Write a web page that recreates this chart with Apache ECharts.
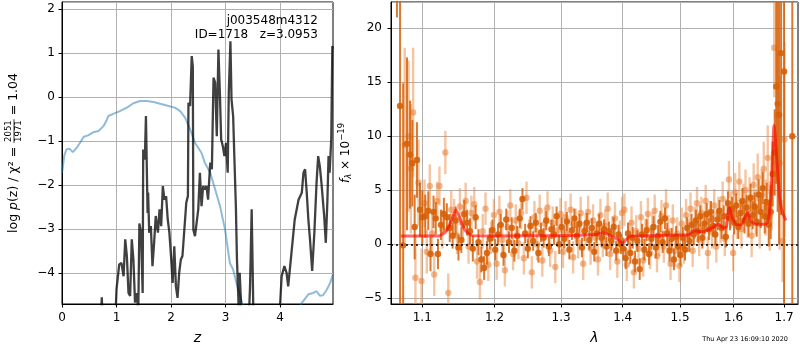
<!DOCTYPE html>
<html>
<head>
<meta charset="utf-8">
<script src="https://cdn.jsdelivr.net/npm/echarts@6/dist/echarts.min.js"></script>
<style>html,body{margin:0;padding:0;background:#fff}#chart{width:800px;height:350px}</style>
</head>
<body>
<div id="chart"></div>
<script>
// axis ticks
var zTicks = [0, 1, 2, 3, 4];
var lamTicks = [1.1, 1.2, 1.3, 1.4, 1.5, 1.6, 1.7];
var zRange = [0, 4.972];
var logpRange = [-4.70, 2.16];
var lamRange = [1.0594, 1.7288];
var fluxRange = [-5.53, 22.43];

// left panel: log p(z)
var zBlack = [0, 0.3, 0.6, 0.70, 0.73, 0.76, 0.98, 0.99, 1.00, 1.05, 1.09, 1.13, 1.16, 1.19, 1.22, 1.25, 1.28, 1.31, 1.34, 1.37,
    1.40, 1.42, 1.45, 1.48, 1.49, 1.52, 1.54, 1.57, 1.58, 1.60, 1.63, 1.66, 1.69, 1.72, 1.76, 1.79, 1.82, 1.85, 1.88, 1.91,
    1.94, 1.97, 2.00, 2.03, 2.06, 2.09, 2.12, 2.15, 2.18, 2.21, 2.24, 2.28, 2.31, 2.32, 2.35, 2.38, 2.40, 2.41, 2.44, 2.50,
    2.53, 2.56, 2.59, 2.62, 2.65, 2.68, 2.72, 2.75, 2.78, 2.81, 2.84, 2.87, 2.90, 2.92, 2.95, 2.98, 3.01, 3.04, 3.06, 3.09,
    3.11, 3.14, 3.16, 3.19, 3.21, 3.24, 3.26, 3.29, 3.35, 3.42, 3.45, 3.48, 3.51, 3.60, 3.80, 3.95, 4.00, 4.03, 4.08, 4.12,
    4.15, 4.21, 4.27, 4.34, 4.37, 4.40, 4.43, 4.46, 4.49, 4.52, 4.55, 4.59, 4.63, 4.67, 4.70, 4.73, 4.76, 4.78, 4.81, 4.84,
    4.87, 4.89, 4.91, 4.94, 4.96, 4.97];
var logpBlack = [-6.5, -6.2, -5.9, -5.5, -4.55, -5.5, -5.2, -4.69, -4.37, -3.80, -3.77, -4.07, -3.23, -3.61, -4.45, -4.52, -3.23, -3.69, -4.67, -4.45,
    -4.83, -2.87, -3.08, -4.45, -1.19, -1.42, -0.43, -2.63, -2.17, -3.08, -2.93, -3.84, -3.31, -2.70, -3.08, -2.55, -2.93, -2.02, -2.33, -2.25,
    -2.78, -3.08, -3.61, -4.22, -3.39, -4.30, -4.56, -3.99, -3.69, -3.61, -3.61, -2.40, -2.25, -0.13, -0.20, 0.93, 0.70, -3.01, -3.16, -2.55,
    -1.72, -2.48, -2.02, -2.10, -2.02, -2.33, -1.49, -1.64, 0.44, 0.33, -0.89, 1.08, -0.05, -0.96, -1.11, -1.34, -1.04, -1.72, 0.10, 1.27,
    -0.05, -0.43, -1.27, -2.48, -3.69, -4.75, -3.99, -4.83, -5.5, -5.3, -4.30, -2.55, -4.83, -5.6, -5.8, -5.2, -4.75, -4.07, -3.84, -3.99,
    -4.30, -3.54, -2.78, -2.33, -2.25, -2.17, -1.72, -1.64, -2.17, -2.78, -3.23, -3.95, -3.08, -1.95, -1.34, -1.57, -1.95, -1.91, -2.70, -3.31,
    -2.33, -1.34, -1.72, -0.96, 1.16, 1.1];
var zBlue = [0, 0.01, 0.04, 0.08, 0.13, 0.20, 0.27, 0.34, 0.40, 0.48, 0.57, 0.67, 0.76, 0.81, 0.85, 0.94, 1.06, 1.19, 1.31, 1.43,
    1.55, 1.68, 1.80, 1.92, 2.07, 2.17, 2.26, 2.35, 2.44, 2.50, 2.56, 2.62, 2.72, 2.81, 2.90, 2.99, 3.08, 3.14, 3.20, 3.27,
    3.31, 3.50, 4.00, 4.30, 4.39, 4.52, 4.61, 4.67, 4.73, 4.79, 4.86, 4.92, 4.97];
var logpBlue = [-1.72, -1.64, -1.34, -1.19, -1.17, -1.25, -1.15, -1.02, -0.90, -0.87, -0.80, -0.77, -0.66, -0.55, -0.43, -0.38, -0.32, -0.24, -0.14, -0.09,
    -0.09, -0.11, -0.15, -0.19, -0.24, -0.32, -0.47, -0.73, -1.04, -1.15, -1.27, -1.49, -1.72, -2.10, -2.48, -3.00, -3.77, -3.92, -4.22, -4.52,
    -4.71, -5.9, -6.3, -5.3, -4.69, -4.48, -4.45, -4.41, -4.51, -4.50, -4.37, -4.22, -4.03];

// right panel: model
var lamModel = [1.072, 1.122, 1.132, 1.140, 1.1455, 1.151, 1.158, 1.168, 1.20, 1.30, 1.355, 1.367, 1.380, 1.393, 1.400, 1.407, 1.414, 1.45, 1.50, 1.512,
    1.518, 1.525, 1.54, 1.555, 1.571, 1.580, 1.586, 1.5915, 1.598, 1.606, 1.615, 1.621, 1.6265, 1.633, 1.642, 1.655, 1.664, 1.669, 1.674, 1.6797,
    1.686, 1.691, 1.697, 1.704];
var fluxModel = [0.77, 0.77, 1.2, 2.3, 3.2, 2.4, 1.3, 0.8, 0.77, 0.8, 0.9, 1.07, 0.8, 0.4, 0.12, 0.5, 0.77, 0.8, 0.85, 0.85,
    0.95, 1.25, 1.15, 1.4, 1.85, 1.5, 1.6, 3.4, 2.4, 1.8, 1.8, 2.4, 2.9, 2.2, 1.85, 1.85, 1.9, 2.5, 5.0, 11.0,
    7.5, 4.3, 2.9, 2.2];

// right panel: spectrum, darker points
var lamDark = [1.067, 1.071, 1.075, 1.080, 1.084, 1.087, 1.090, 1.093, 1.097, 1.100,
    1.104, 1.108, 1.111, 1.115, 1.118, 1.121, 1.125, 1.129, 1.133, 1.137,
    1.141, 1.145, 1.149, 1.153, 1.157, 1.161, 1.165, 1.169, 1.173, 1.177,
    1.181, 1.185, 1.189, 1.193, 1.197, 1.201, 1.205, 1.209, 1.213, 1.217,
    1.221, 1.225, 1.229, 1.233, 1.237, 1.241, 1.245, 1.249, 1.253, 1.257,
    1.261, 1.265, 1.269, 1.273, 1.277, 1.281, 1.285, 1.289, 1.293, 1.297,
    1.301, 1.305, 1.309, 1.313, 1.317, 1.321, 1.325, 1.329, 1.333, 1.337,
    1.341, 1.345, 1.349, 1.353, 1.357, 1.361, 1.365, 1.369, 1.373, 1.377,
    1.381, 1.385, 1.389, 1.393, 1.397, 1.401, 1.405, 1.409, 1.413, 1.417,
    1.421, 1.425, 1.429, 1.433, 1.437, 1.441, 1.445, 1.449, 1.453, 1.457,
    1.461, 1.465, 1.469, 1.473, 1.477, 1.481, 1.485, 1.489, 1.493, 1.497,
    1.501, 1.505, 1.509, 1.513, 1.517, 1.521, 1.525, 1.529, 1.533, 1.537,
    1.541, 1.545, 1.549, 1.553, 1.557, 1.561, 1.565, 1.569, 1.573, 1.577,
    1.581, 1.585, 1.589, 1.593, 1.597, 1.601, 1.605, 1.609, 1.613, 1.617,
    1.621, 1.625, 1.629, 1.633, 1.637, 1.641, 1.645, 1.649, 1.653, 1.657,
    1.661, 1.665, 1.669, 1.673, 1.677, 1.681, 1.684, 1.687, 1.690, 1.694, 1.700, 1.717];
var fluxDark = [30, 12.8, -0.1, 9.3, 8.3, 7.5, 1.6, 7.8, 3.2, 2.5,
    2.6, 3.1, -0.9, 3.0, 2.4, -0.9, 1.8, 2.8, 2.5, 1.5,
    0.8, 2.2, -0.3, 0.4, 2.8, 2.0, 1.2, -0.4, 2.5, 0.2,
    -1.4, -2.2, -0.8, 0.5, 1.3, -0.5, 0.9, 1.8, -1.0, 2.3,
    0.2, 1.5, -0.6, 0.8, 2.4, 4.2, 1.0, -0.4, 1.7, 0.3,
    2.0, -0.8, 1.1, 0.6, 2.2, -0.2, 1.4, 0.9, 2.6, 0.0,
    1.6, 0.5, 2.1, -0.5, 1.3, 2.4, 0.8, 1.9, -0.3, 1.2,
    2.0, 0.4, 1.5, -0.7, 1.0, 1.9, 0.6, 1.4, -0.2, 1.2,
    0.3, 1.6, -0.6, 0.9, 0.0, -0.4, -1.3, 1.0, -0.8, 0.6,
    -1.6, 0.3, -2.3, 0.9, -0.5, 1.3, -0.9, 0.5, 1.6, -0.3,
    0.8, 2.1, 0.2, 2.4, 1.0, -0.6, 0.5, -1.4, 0.7, -0.2,
    -1.0, 0.6, -0.5, 1.5, 0.3, 1.8, 0.9, 2.2, 1.2, 2.6,
    0.6, 1.9, 2.8, 1.4, 3.0, 1.7, 0.9, 2.3, 3.1, 1.5,
    2.6, 0.7, 3.8, 2.4, 3.3, 2.0, 3.6, 1.6, 2.9, 4.0,
    2.2, 3.4, 1.9, 4.3, 2.7, 3.5, 2.1, 4.6, 3.0, 5.2,
    2.6, 3.9, 1.8, 3.0, 6.5, 8.5, 14.6, 13.0, 12.0, 17.7, 16.0, 10.0];
var errDark = [9, 22, 15, 8, 5, 4, 3, 3.5, 2.5, 2.5,
    2, 1.8, 1.6, 1.5, 1.5, 1.4, 1.4, 1.5, 1.3, 1.3,
    1.2, 1.3, 1.2, 1.2, 1.3, 1.2, 1.2, 1.2, 1.1, 1.2,
    1.2, 1.1, 1.1, 1.0, 1.0, 1.0, 1.0, 1.0, 1.0, 1.0,
    1.0, 1.0, 1.0, 0.9, 0.9, 1.0, 0.9, 0.9, 0.9, 0.9,
    0.9, 0.9, 0.9, 0.9, 0.9, 0.9, 0.9, 0.9, 0.9, 0.9,
    0.9, 0.9, 0.9, 0.9, 0.9, 0.9, 0.9, 0.9, 0.9, 0.9,
    0.9, 0.9, 0.9, 0.9, 0.9, 0.9, 0.9, 0.9, 0.9, 0.9,
    0.9, 0.9, 0.9, 0.9, 0.9, 1.0, 1.0, 1.0, 1.0, 1.0,
    1.0, 1.0, 1.0, 1.0, 1.0, 1.0, 1.0, 1.0, 1.0, 1.0,
    1.0, 1.0, 1.0, 1.0, 1.0, 1.0, 1.0, 1.0, 1.0, 1.0,
    1.0, 1.0, 1.0, 1.0, 1.0, 1.0, 1.0, 1.0, 1.0, 1.0,
    1.0, 1.0, 1.0, 1.0, 1.0, 1.0, 1.0, 1.0, 1.0, 1.0,
    1.0, 1.0, 1.1, 1.1, 1.1, 1.1, 1.1, 1.1, 1.2, 1.2,
    1.2, 1.2, 1.2, 1.3, 1.3, 1.3, 1.4, 1.4, 1.5, 1.5,
    1.6, 1.8, 2.0, 2.5, 3, 4, 9, 10, 12, 15, 30, 40];

// right panel: spectrum, lighter points
var lamLight = [1.077, 1.082, 1.085, 1.088, 1.091, 1.095, 1.099,
    1.103, 1.106, 1.110, 1.113, 1.116, 1.120, 1.123, 1.127, 1.131, 1.135,
    1.139, 1.143, 1.147, 1.151, 1.155, 1.159, 1.163, 1.167, 1.171, 1.175,
    1.179, 1.183, 1.187, 1.191, 1.195, 1.199, 1.203, 1.207, 1.211, 1.215,
    1.219, 1.223, 1.227, 1.231, 1.235, 1.239, 1.243, 1.247, 1.251, 1.255,
    1.259, 1.263, 1.267, 1.271, 1.275, 1.279, 1.283, 1.287, 1.291, 1.295,
    1.299, 1.303, 1.307, 1.311, 1.315, 1.319, 1.323, 1.327, 1.331, 1.335,
    1.339, 1.343, 1.347, 1.351, 1.355, 1.359, 1.363, 1.367, 1.371, 1.375,
    1.379, 1.383, 1.387, 1.391, 1.395, 1.399, 1.403, 1.407, 1.411, 1.415,
    1.419, 1.423, 1.427, 1.431, 1.435, 1.439, 1.443, 1.447, 1.451, 1.455,
    1.459, 1.463, 1.467, 1.471, 1.475, 1.479, 1.483, 1.487, 1.491, 1.495,
    1.499, 1.503, 1.507, 1.511, 1.515, 1.519, 1.523, 1.527, 1.531, 1.535,
    1.539, 1.543, 1.547, 1.551, 1.555, 1.559, 1.563, 1.567, 1.571, 1.575,
    1.579, 1.583, 1.587, 1.591, 1.595, 1.599, 1.603, 1.607, 1.611, 1.615,
    1.619, 1.623, 1.627, 1.631, 1.635, 1.639, 1.643, 1.647, 1.651, 1.655,
    1.659, 1.663, 1.667, 1.671, 1.675, 1.680, 1.686, 1.691, 1.697, 1.701];
var fluxLight = [9.2, 10.0, 7.0, 12.2, -3.1, 5.7, -3.4,
    3.8, -0.7, 5.4, 1.0, -2.8, 4.0, 5.4, 1.4, 8.5, -4.5,
    3.2, 2.5, 0.8, 3.5, 1.9, 4.0, -0.2, 2.9, 3.7, -1.6,
    -3.5, 1.2, 3.3, -1.9, 0.6, 2.7, -1.8, 3.0, 0.4, -2.4,
    1.6, 3.6, -0.9, 2.2, 0.1, 2.9, -1.3, 4.3, 0.8, -2.6,
    2.5, 0.0, 3.1, -1.5, 1.9, 3.4, -0.6, 2.0, -2.1, 1.3,
    2.8, -0.7, 2.5, 0.9, 3.2, -1.2, 1.8, 0.2, 2.9, -1.8,
    1.4, 3.0, -0.4, 2.2, 0.6, -1.4, 2.7, 0.3, 1.7, 3.3,
    -0.9, 1.1, 2.4, -1.6, 0.7, 2.9, 3.2, -1.9, 0.5, 2.0,
    -2.6, 1.2, -0.4, 2.5, -1.5, 0.9, 2.8, -0.8, 1.5, 3.1,
    -1.1, 0.4, 2.6, -0.2, 3.6, 1.2, -1.8, 2.2, -0.6, 1.0,
    -2.0, 1.9, -0.3, 2.7, 0.8, 3.3, -0.6, 2.0, 3.8, 0.4,
    2.9, 1.5, 4.0, -0.8, 2.5, 1.1, 3.6, -0.2, 2.9, 1.6,
    4.2, 0.5, 2.6, 6.0, 3.2, -0.8, 4.8, 2.3, 5.8, 1.4,
    3.7, 5.0, 2.5, 4.2, 0.8, 5.5, 3.0, 6.2, 1.9, 4.5,
    7.0, 3.4, 8.0, 2.6, 4.8, 18.2, 12.0, 7.5, 0.3, 9.7];
var errLight = [9, 7, 6, 6, 4, 4, 3,
    2.2, 2, 2, 2, 2, 1.8, 1.8, 1.8, 2, 1.8,
    1.8, 1.7, 1.7, 1.7, 1.7, 1.7, 1.6, 1.6, 1.6, 1.6,
    1.6, 1.6, 1.5, 1.5, 1.5, 1.5, 1.5, 1.5, 1.5, 1.5,
    1.5, 1.5, 1.5, 1.5, 1.5, 1.5, 1.5, 1.5, 1.5, 1.5,
    1.5, 1.5, 1.5, 1.5, 1.5, 1.5, 1.5, 1.5, 1.5, 1.5,
    1.5, 1.5, 1.5, 1.5, 1.5, 1.5, 1.5, 1.5, 1.5, 1.5,
    1.5, 1.5, 1.5, 1.5, 1.5, 1.5, 1.5, 1.5, 1.5, 1.5,
    1.5, 1.5, 1.5, 1.5, 1.5, 1.5, 1.5, 1.5, 1.5, 1.5,
    1.5, 1.5, 1.5, 1.5, 1.5, 1.5, 1.5, 1.5, 1.5, 1.5,
    1.5, 1.5, 1.5, 1.5, 1.5, 1.5, 1.5, 1.5, 1.5, 1.5,
    1.5, 1.5, 1.5, 1.5, 1.5, 1.5, 1.5, 1.5, 1.5, 1.5,
    1.5, 1.5, 1.5, 1.5, 1.5, 1.5, 1.5, 1.5, 1.5, 1.5,
    1.6, 1.6, 1.6, 1.7, 1.7, 1.7, 1.8, 1.8, 1.8, 1.8,
    1.9, 1.9, 1.9, 2.0, 2.0, 2.0, 2.1, 2.2, 2.3, 2.4,
    2.5, 2.6, 3, 3.2, 3.5, 4.6, 6, 8, 3.8, 9];

var FONT = 'DejaVu Sans';

function pairs(xs, ys, logX) {
    var out = [];
    for (var i = 0; i < xs.length; i++) {
        out.push([logX ? Math.log(xs[i]) : xs[i], ys[i]]);
    }
    return out;
}

function minus(v) {
    return v < 0 ? '\u2212' + (-v) : '' + v;
}

function errSeries(lams, fl, er, barColor, dotColor, barWidth) {
    var data = [];
    for (var i = 0; i < lams.length; i++) {
        data.push([Math.log(lams[i]), fl[i], er[i]]);
    }
    return {
        type: 'custom',
        xAxisIndex: 1,
        yAxisIndex: 1,
        clip: true,
        silent: true,
        data: data,
        renderItem: function (params, api) {
            var x = api.value(0), y = api.value(1), e = api.value(2);
            var lo = api.coord([x, y - e]);
            var hi = api.coord([x, y + e]);
            var c = api.coord([x, y]);
            return {
                type: 'group',
                children: [
                    {type: 'line', shape: {x1: lo[0], y1: lo[1], x2: hi[0], y2: hi[1]},
                        style: {stroke: barColor, lineWidth: barWidth}},
                    {type: 'circle', shape: {cx: c[0], cy: c[1], r: 3.2},
                        style: {fill: dotColor}}
                ]
            };
        }
    };
}

// y label of the left panel (with a stacked fraction)
var ctx = document.createElement('canvas').getContext('2d');
function textWidth(s, font) {
    ctx.font = font;
    return ctx.measureText(s).width;
}
var fMain = '12.5px "' + FONT + '"';
var fFrac = '8.5px "' + FONT + '"';
var w1 = textWidth('log ', fMain) + textWidth('p', 'italic ' + fMain) + textWidth('(z) / \u03c7\u00b2 = ', fMain);
var wf = textWidth('2051', fFrac) + 2;
var w3 = textWidth(' = 1.04', fMain);
var labelLen = w1 + wf + w3;

var axisCommon = {
    axisLine: {show: true, onZero: false, lineStyle: {color: '#000', width: 1}},
    axisTick: {show: true, inside: false, length: 3.5, lineStyle: {color: '#000', width: 1}},
    splitLine: {show: true, lineStyle: {color: '#b0b0b0', width: 1}},
    axisLabel: {color: '#000', fontFamily: FONT, fontSize: 12, margin: 7, showMinLabel: false, showMaxLabel: false}
};

function axis(extra) {
    var a = JSON.parse(JSON.stringify(axisCommon));
    a.axisLabel.formatter = minus;
    for (var k in extra) {
        if (typeof extra[k] === 'object' && a[k] && !Array.isArray(extra[k])) {
            for (var j in extra[k]) a[k][j] = extra[k][j];
        } else {
            a[k] = extra[k];
        }
    }
    return a;
}

var chart = echarts.init(document.getElementById('chart'), null, {renderer: 'canvas'});
chart.setOption({
    animation: false,
    backgroundColor: '#fff',
    grid: [
        {left: 62, top: 2, width: 271, height: 302, show: true, borderColor: '#000', borderWidth: 1, backgroundColor: 'transparent'},
        {left: 391, top: 2, width: 407, height: 302, show: true, borderColor: '#000', borderWidth: 1, backgroundColor: 'transparent'}
    ],
    xAxis: [
        axis({
            type: 'value', gridIndex: 0, min: zRange[0], max: zRange[1],
            axisTick: {customValues: zTicks},
            axisLabel: {customValues: zTicks, margin: 8, showMinLabel: true, showMaxLabel: true},
            name: 'z', nameLocation: 'middle', nameGap: 27,
            nameTextStyle: {fontFamily: FONT, fontSize: 14, fontStyle: 'italic', color: '#000'}
        }),
        axis({
            type: 'value', gridIndex: 1, min: Math.log(lamRange[0]), max: Math.log(lamRange[1]),
            axisTick: {customValues: lamTicks.map(Math.log)},
            axisLabel: {customValues: lamTicks.map(Math.log), margin: 8, showMinLabel: true, showMaxLabel: true,
                formatter: function (v) { return Math.exp(v).toFixed(1); }},
            name: '\u03bb', nameLocation: 'middle', nameGap: 27,
            nameTextStyle: {fontFamily: FONT, fontSize: 14, fontStyle: 'italic', color: '#000'}
        })
    ],
    yAxis: [
        axis({
            type: 'value', gridIndex: 0, min: logpRange[0], max: logpRange[1],
            minInterval: 1, maxInterval: 1
        }),
        axis({
            type: 'value', gridIndex: 1, min: fluxRange[0], max: fluxRange[1],
            minInterval: 5, maxInterval: 5,
            axisLabel: {margin: 9},
            name: '{i|f}{s|\u03bb}{n| \u00d7 10}{p|\u221219}',
            nameLocation: 'middle', nameGap: 36, nameRotate: 90,
            nameTextStyle: {
                color: '#000',
                rich: {
                    i: {fontFamily: FONT, fontSize: 12, fontStyle: 'italic', lineHeight: 16},
                    s: {fontFamily: FONT, fontSize: 8.5, fontStyle: 'italic', lineHeight: 16, verticalAlign: 'bottom', padding: [6, 0, 0, 0]},
                    n: {fontFamily: FONT, fontSize: 12, lineHeight: 16},
                    p: {fontFamily: FONT, fontSize: 8.5, lineHeight: 16, verticalAlign: 'top', padding: [0, 0, 6, 0]}
                }
            }
        })
    ],
    graphic: [
        {type: 'text', x: 318, y: 20.5, z: 10,
            style: {text: 'j003548m4312', fill: '#000', font: '12px "' + FONT + '"', align: 'right', verticalAlign: 'middle'}},
        {type: 'text', x: 318, y: 34.5, z: 10,
            style: {text: 'ID=1718   z=3.0953', fill: '#000', font: '12px "' + FONT + '"', align: 'right', verticalAlign: 'middle'}},
        {type: 'text', x: 788, y: 339.5, z: 10,
            style: {text: 'Thu Apr 23 16:09:10 2020', fill: '#000', font: '6.5px "' + FONT + '"', align: 'right', verticalAlign: 'middle'}},
        {
            type: 'group', x: 13.5, y: 153 + labelLen / 2, rotation: Math.PI / 2, z: 10,
            children: [
                {type: 'text', x: 0, y: 0, style: {
                    text: 'log {i|p}(z) / \u03c7\u00b2 = ', fill: '#000', fontFamily: FONT, fontSize: 12.5,
                    align: 'left', verticalAlign: 'middle',
                    rich: {i: {fontFamily: FONT, fontSize: 12.5, fontStyle: 'italic'}}
                }},
                {type: 'text', x: w1 + wf / 2, y: -4.5, style: {
                    text: '2051', fill: '#000', font: fFrac, align: 'center', verticalAlign: 'middle'}},
                {type: 'line', shape: {x1: w1, y1: 0.5, x2: w1 + wf, y2: 0.5}, style: {stroke: '#000', lineWidth: 0.8}},
                {type: 'text', x: w1 + wf / 2, y: 5.5, style: {
                    text: '1971', fill: '#000', font: fFrac, align: 'center', verticalAlign: 'middle'}},
                {type: 'text', x: w1 + wf, y: 0, style: {
                    text: ' = 1.04', fill: '#000', font: fMain, align: 'left', verticalAlign: 'middle'}}
            ]
        }
    ],
    series: [
        {
            type: 'line', xAxisIndex: 0, yAxisIndex: 0, data: pairs(zBlue, logpBlue),
            showSymbol: false, silent: true, clip: true,
            lineStyle: {color: 'rgba(31,119,180,0.5)', width: 2}
        },
        {
            type: 'line', xAxisIndex: 0, yAxisIndex: 0, data: pairs(zBlack, logpBlack),
            showSymbol: false, silent: true, clip: true,
            lineStyle: {color: 'rgba(0,0,0,0.75)', width: 2.3}
        },
        errSeries(lamLight, fluxLight, errLight, 'rgba(236,140,70,0.5)', 'rgba(232,128,52,0.55)', 2.4),
        errSeries(lamDark, fluxDark, errDark, 'rgba(214,98,10,0.85)', 'rgba(214,96,8,0.9)', 2),
        {
            type: 'line', xAxisIndex: 1, yAxisIndex: 1, data: pairs(lamModel, fluxModel, true),
            showSymbol: false, silent: true, clip: true, smooth: 0.2, z: 5,
            lineStyle: {color: 'rgba(255,0,0,0.6)', width: 3},
            markLine: {
                silent: true, symbol: 'none', label: {show: false},
                lineStyle: {color: '#000', type: [2, 3], width: 1.6},
                data: [{yAxis: 0}]
            }
        }
    ]
});
</script>
</body>
</html>
